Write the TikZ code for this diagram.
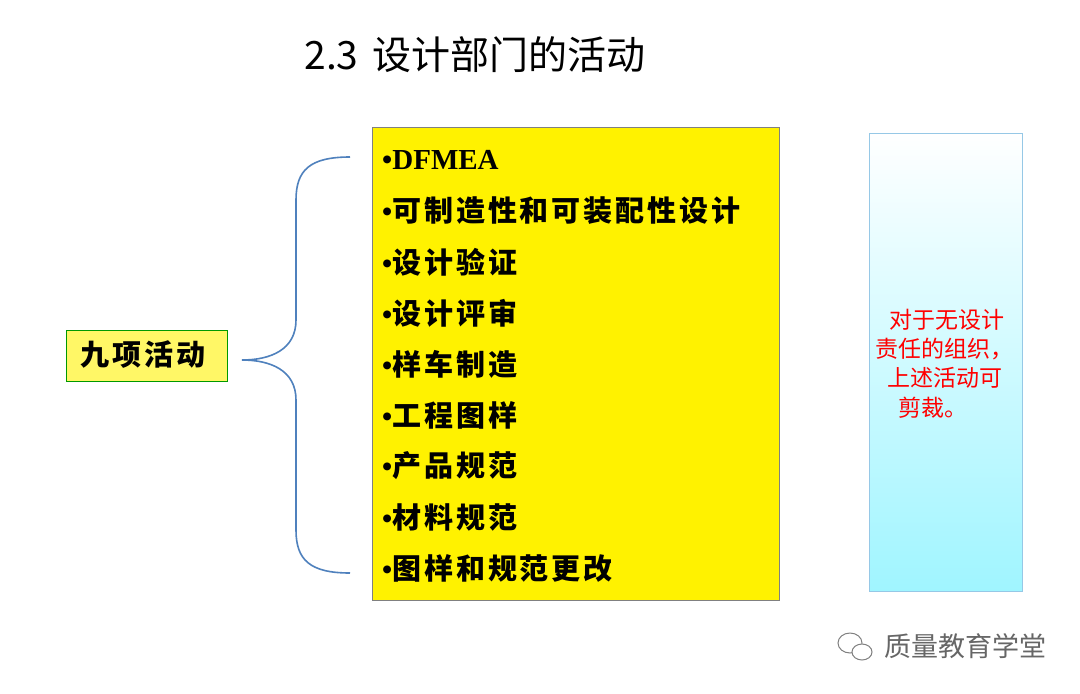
\documentclass[tikz,border=0pt]{standalone}
\usepackage{fontspec}
\newfontfamily\cjk{Noto Sans CJK SC}
\newfontfamily\cjksp[LetterSpace=10]{Noto Sans CJK SC}
\setmainfont{Liberation Serif}
\newcommand{\bul}{{\rmfamily\bfseries •}}
\begin{document}
\begin{tikzpicture}[x=1pt,y=-1pt,
  item/.style={anchor=west,font=\cjksp\bfseries\fontsize{29}{29}\selectfont,inner sep=0pt},
  note/.style={font=\cjk\fontsize{23}{23}\selectfont,text=red,inner sep=0pt}]
\useasboundingbox[fill=white] (0,0) rectangle (1080,694);
\node[font=\cjk\fontsize{39}{39}\selectfont,inner sep=0pt] (title) at (475,55) {2.3\hspace{14pt}设计部门的活动};
\node[draw=green!60!black,fill=yellow!60!white,line width=0.8pt,minimum width=161pt,minimum height=51pt,inner sep=0pt] (nine) at (146.5,355.5) {};
\node[anchor=center,inner sep=0pt,font=\cjksp\bfseries\fontsize{29}{29}\selectfont] (ninet) at (143,355) {九项活动};
\node[draw=gray,fill=yellow,line width=0.8pt,minimum width=407pt,minimum height=473pt,inner sep=0pt] (list) at (575.5,363.5) {};
\coordinate (btop) at (350,157);
\coordinate (bbot) at (350,573);
\coordinate (btip) at (242,360);
\draw[color={rgb,255:red,79;green,129;blue,189},line width=1.6pt]
  (btop) .. controls (310,157) and (296,170) .. (296,200)
  -- (296,320) .. controls (296,350) and (270,360) .. (btip)
  (btip) .. controls (270,360) and (296,370) .. (296,400)
  -- (296,530) .. controls (296,560) and (310,573) .. (bbot);
\node[item] (it1) at (382,160) {\bul{\rmfamily\bfseries DFMEA}};
\foreach \t [count=\i from 2] in {可制造性和可装配性设计,设计验证,设计评审,样车制造,工程图样,产品规范,材料规范,图样和规范更改}
  \node[item] (it\i) at (382,{160+(\i-1)*51}) {\bul\t};
\shade[top color=white,bottom color={rgb,255:red,160;green,245;blue,255},draw={rgb,255:red,150;green,200;blue,230}] (869,133) rectangle (1022,591);
\node[note] (n1) at (945,320) {\,对于无设计};
\node[note] (n2) at (944,349) {责任的组织，};
\node[note] (n3) at (945,378) {上述活动可};
\node[note] (n4) at (933,408) {剪裁。};
\node[font=\cjk\fontsize{27}{27}\selectfont,text=gray!80!black,inner sep=0pt] (wm) at (965,646) {质量教育学堂};
\draw[gray,line width=1pt] (850,643) ellipse (12 and 10);
\draw[gray,line width=1pt,fill=white] (862,652) ellipse (10 and 8);
\end{tikzpicture}
\end{document}
